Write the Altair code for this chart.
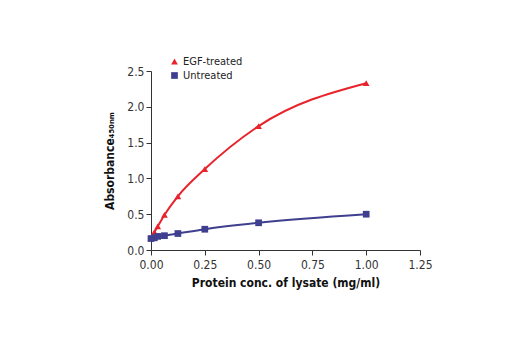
import altair as alt
import pandas as pd

conc = [0.0, 0.0156, 0.03125, 0.0625, 0.125, 0.25, 0.5, 1.0]
egf = [0.17, 0.25, 0.33, 0.49, 0.75, 1.13, 1.73, 2.33]
untreated = [0.16, 0.17, 0.19, 0.20, 0.23, 0.29, 0.38, 0.50]
series = ["EGF-treated", "Untreated"]

rows = []
for c, v in zip(conc, egf):
    rows.append({"conc": c, "abs": v, "series": series[0]})
for c, v in zip(conc, untreated):
    rows.append({"conc": c, "abs": v, "series": series[1]})
df = pd.DataFrame(rows)

FONT = "DejaVu Sans Condensed"
leg = alt.Legend(title=None, orient="none", legendX=18, legendY=-15,
                 labelFontSize=11, labelFont=FONT,
                 labelColor="#222", symbolSize=45, rowPadding=2, labelOffset=3,
                 symbolStrokeWidth=0)
color = alt.Color("series:N", scale=alt.Scale(domain=series, range=["#e8232b", "#3f3f8f"]), legend=leg)
shape = alt.Shape("series:N", scale=alt.Scale(domain=series, range=["triangle-up", "square"]), legend=leg)

x = alt.X("conc:Q", scale=alt.Scale(domain=[0, 1.25]),
          axis=alt.Axis(values=[0, 0.25, 0.5, 0.75, 1.0, 1.25], format=".2f",
                        labelFlush=False, labelOverlap=False,
                        title="Protein conc. of lysate (mg/ml)", grid=False))
y = alt.Y("abs:Q", scale=alt.Scale(domain=[0, 2.5]),
          axis=alt.Axis(values=[0, 0.5, 1.0, 1.5, 2.0, 2.5], format=".1f",
                        labelFlush=False, labelOverlap=False,
                        title="Absorbance₄₅₀ₙₘ", grid=False))

lines = alt.Chart(df).mark_line(interpolate="monotone", strokeWidth=2).encode(
    x=x, y=y, color=color, detail="series:N")
points = alt.Chart(df).mark_point(filled=True, size=45, opacity=1).encode(
    x=x, y=y, color=color, shape=shape)

chart = (lines + points).properties(
    width=269, height=179,
    autosize=alt.AutoSizeParams(type="none"),
    padding={"left": 151, "top": 71, "right": 100, "bottom": 100},
).configure_view(stroke=None).configure_axis(
    domainColor="#333", tickColor="#333", tickSize=5,
    labelFont=FONT, labelFontSize=12, labelColor="#333",
    titleFont=FONT, titleFontSize=12, titleFontWeight="bold", titleColor="#111",
).configure_axisX(titlePadding=7, labelPadding=4).configure_axisY(titlePadding=10, labelPadding=2)

chart.save("out.html", embed_options={"renderer": "svg", "actions": False})
